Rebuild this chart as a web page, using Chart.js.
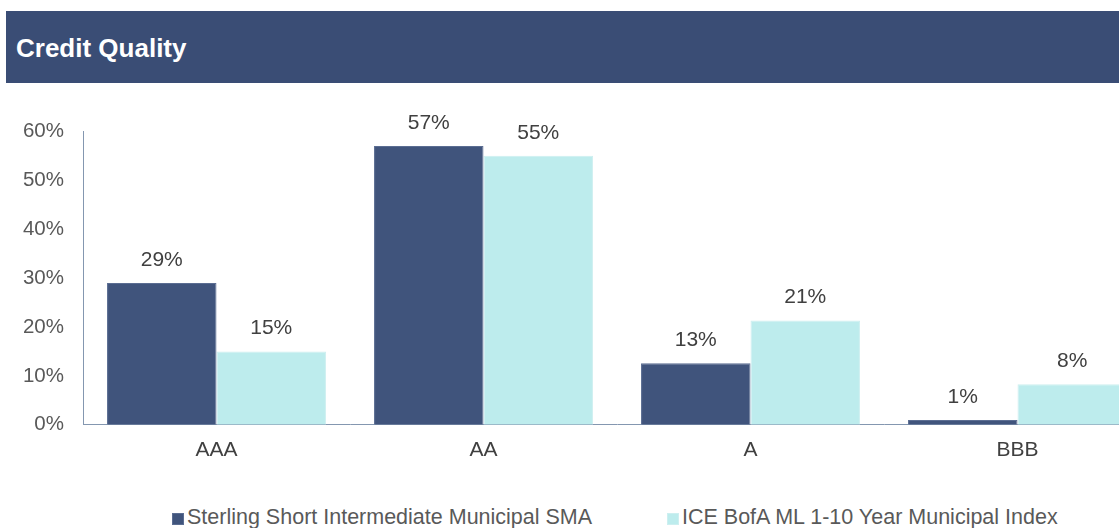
<!DOCTYPE html>
<html>
<head>
<meta charset="utf-8">
<script src="https://cdn.jsdelivr.net/npm/chart.js@4.4.1/dist/chart.umd.min.js"></script>
<style>
  body { margin: 0; width: 1119px; height: 528px; overflow: hidden; background: #fff; font-family: "Liberation Sans", Arial, sans-serif; }
  .header { position: absolute; left: 6px; top: 11px; width: 1113px; height: 72px; background: #3a4d75; }
  .header h1 { position: absolute; left: 10px; top: 22px; margin: 0; color: #fff; font-size: 26px; font-weight: bold; line-height: 30px; }
  .chart-box { position: absolute; left: 0; top: 100px; width: 1160px; height: 376px; }
  #legend { position: absolute; top: 505px; left: 0; width: 1119px; height: 24px; }
  #legend .item { position: absolute; top: 0; color: #595959; font-size: 21.5px; line-height: 24px; white-space: nowrap; }
  #legend .box { display: inline-block; width: 10px; height: 10px; margin-right: 3px; vertical-align: -1px; }
</style>
</head>
<body>
<div class="header"><h1>Credit Quality</h1></div>
<div class="chart-box"><canvas id="myChart"></canvas></div>
<div id="legend"></div>
<script>
const categories = ["AAA", "AA", "A", "BBB"];
const sterlingValues = [29, 57, 12.6, 1];
const iceValues = [15, 55, 21.3, 8.3];
const yTicks = [0, 10, 20, 30, 40, 50, 60];
const seriesNames = ["Sterling Short Intermediate Municipal SMA", "ICE BofA ML 1-10 Year Municipal Index"];
const legendLeft = [172, 667];

const fontFamily = "'Liberation Sans', Arial, sans-serif";

// labels above each bar
const barLabels = {
    id: "barLabels",
    afterDatasetsDraw(chart) {
        const ctx = chart.ctx;
        ctx.save();
        ctx.font = "21px " + fontFamily;
        ctx.fillStyle = "#404040";
        ctx.textAlign = "center";
        ctx.textBaseline = "middle";
        chart.data.datasets.forEach((ds, i) => {
            chart.getDatasetMeta(i).data.forEach((bar, j) => {
                ctx.fillText(Math.round(ds.data[j]) + "%", bar.x, bar.y - 23);
            });
        });
        ctx.restore();
    }
};

const ctx = document.getElementById("myChart").getContext("2d");
const chart = new Chart(ctx, {
    type: "bar",
    data: {
        labels: categories,
        datasets: [{
            label: seriesNames[0],
            data: sterlingValues,
            backgroundColor: "#40547c",
            borderColor: "#5b6d92",
            borderWidth: 1,
        }, {
            label: seriesNames[1],
            data: iceValues,
            backgroundColor: "#bdeced",
            borderColor: "#cdeff0",
            borderWidth: 1,
        }]
    },
    options: {
        animation: false,
        responsive: true,
        maintainAspectRatio: false,
        categoryPercentage: 0.82,
        barPercentage: 1,
        layout: { padding: { top: 26, right: 9 } },
        plugins: {
            legend: { display: false },
            tooltip: { enabled: false },
        },
        scales: {
            x: {
                grid: { display: false, drawTicks: false },
                border: { color: "#8497b0", width: 1 },
                ticks: { color: "#404040", padding: 13, font: { size: 21, family: fontFamily } },
            },
            y: {
                min: 0,
                max: 60,
                afterFit(scale) { scale.width = 83; },
                afterBuildTicks(scale) { scale.ticks = yTicks.map(v => ({ value: v })); },
                grid: { display: false, drawTicks: false },
                border: { color: "#8497b0", width: 1 },
                ticks: {
                    color: "#595959",
                    padding: 19,
                    font: { size: 20.5, family: fontFamily },
                    callback: v => v + "%",
                },
            },
        },
    },
    plugins: [barLabels],
});

// html legend from the datasets
const legend = document.getElementById("legend");
chart.data.datasets.forEach((ds, i) => {
    const item = document.createElement("div");
    item.className = "item";
    item.style.left = legendLeft[i] + "px";
    item.innerHTML = '<span class="box" style="background:' + ds.backgroundColor + ';border:1px solid ' + ds.borderColor + '"></span>' + ds.label;
    legend.appendChild(item);
});
</script>
</body>
</html>
